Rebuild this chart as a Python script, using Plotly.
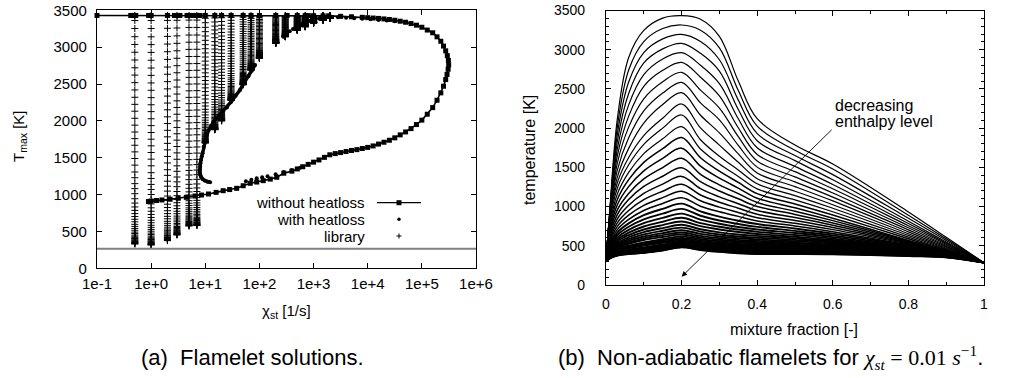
import numpy as np
import plotly.graph_objects as go

W, H = 1010, 378
SANS = "Liberation Sans, Arial, Helvetica, sans-serif"

# ------------------------------------------------------------------
# Panel (a): Flamelet solutions
# ------------------------------------------------------------------
# library columns (scalar dissipation rate) and lowest T_max reached in each column
LIB_CHI = [0.5, 1, 2, 3, 5, 7, 10, 15, 20, 30, 50, 70, 100, 200, 300, 500, 700, 1000, 1500, 2000]
LIB_TMIN = [330, 316, 375, 452, 574, 580, 1700, 1880, 2000, 2280, 2490, 2690, 2850, 3053, 3142,
            3233, 3278, 3330, 3370, 3390]
LIB_TMAX = 3430
# normalised position of the library enthalpy levels inside a column (1 = adiabatic)
LIB_LEVELS = [1.0, .978, .943, .907, .873, .839, .805, .771, .739, .706, .674, .642, .611, .581,
              .550, .520, .490, .461, .432, .403, .374, .345, .315, .290, .264, .242, .220, .198,
              .179, .162, .147, .133, .120, .108, .097, .086, .077, .068, .060, .052, .046, .039,
              .034, .029, .024, .021, .017, .014, .011, .0084, .0061, .0042, .0026, .0013, 0.0]

# with heat loss: extinction limit branch (C-shaped), near-adiabatic branch, middle-branch points
HL_C_LOGCHI = [1.089, 1.04, 0.99, 0.95, 0.92, 0.905, 0.90, 0.90, 0.905, 0.91, 0.92, 0.935, 0.95,
               0.97, 0.996, 1.03, 1.06, 1.10, 1.15, 1.20, 1.26, 1.33, 1.40, 1.48, 1.56, 1.64,
               1.72, 1.80, 1.86, 1.92]
HL_C_T = [1167, 1175, 1190, 1210, 1240, 1270, 1300, 1340, 1380, 1425, 1470, 1520, 1560, 1650,
          1741, 1810, 1870, 1930, 1985, 2030, 2080, 2130, 2180, 2260, 2340, 2419, 2520, 2610,
          2680, 2758]
HL_TOP_LOGCHI = [2.44, 2.50, 2.56, 2.62, 2.68, 2.74, 2.80, 2.86, 2.92, 3.0, 3.1, 3.2, 3.3, 3.45,
                 3.6, 3.75, 3.9, 4.05, 4.2, 4.35, 4.5]
HL_TOP_T = [3142, 3180, 3215, 3248, 3275, 3300, 3320, 3338, 3355, 3372, 3390, 3405, 3410, 3405,
            3398, 3392, 3385, 3378, 3370, 3362, 3352]
HL_MID_LOGCHI = [1.75, 1.85, 1.95, 2.05, 2.15, 2.3, 2.45, 2.6, 2.75]
HL_MID_T = [1180, 1200, 1220, 1235, 1250, 1275, 1305, 1335, 1365]

# without heat loss (adiabatic S-curve)
NOHL_LOGCHI = [-1.0, -0.377, -0.328, -0.284, -0.046, 0.0, 0.301, 0.431, 0.477, 0.531, 0.663,
               0.699, 0.740, 0.778, 0.820, 0.863, 0.903, 1.0, 1.176, 1.301, 1.477, 1.699, 1.845,
               2.0, 2.301, 2.511, 2.699, 2.845, 2.903, 3.0, 3.176, 3.279,
               3.5, 3.7, 3.9, 4.0, 4.1, 4.2, 4.3, 4.4, 4.5, 4.6, 4.7, 4.8, 4.9, 5.0, 5.1, 5.2,
               5.28, 5.35, 5.40, 5.44, 5.47, 5.49, 5.495, 5.485, 5.465, 5.44, 5.40, 5.35, 5.28,
               5.2, 5.1, 5.0, 4.9, 4.8, 4.7, 4.6, 4.5, 4.4, 4.3, 4.2, 4.1, 4.0, 3.9, 3.8, 3.7,
               3.6, 3.5, 3.4, 3.3, 3.2, 3.1, 3.0, 2.9, 2.8, 2.7, 2.6, 2.45, 2.32, 2.2, 2.07,
               1.95, 1.83, 1.7, 1.58, 1.45, 1.33, 1.2, 1.06, 0.93, 0.81, 0.65, 0.5, 0.35, 0.2,
               0.1, 0.0, -0.05]
NOHL_T = [3430, 3430, 3430, 3430, 3430, 3430, 3430, 3430, 3430, 3430, 3430, 3430, 3430, 3430,
          3430, 3430, 3430, 3430, 3430, 3430, 3430, 3430, 3430, 3430, 3430, 3430, 3430, 3428,
          3428, 3427, 3426, 3425,
          3418, 3412, 3405, 3400, 3395, 3390, 3383, 3375, 3365, 3352, 3338, 3320, 3298, 3270,
          3232, 3195, 3140, 3080, 3015, 2950, 2885, 2820, 2760, 2700, 2630, 2560, 2470, 2380,
          2280, 2180, 2090, 2010, 1950, 1895, 1850, 1810, 1770, 1737, 1710, 1685, 1660, 1640,
          1625, 1610, 1598, 1584, 1570, 1556, 1540, 1505, 1470, 1440, 1410, 1378, 1348, 1318,
          1290, 1235, 1210, 1189, 1170, 1153, 1120, 1085, 1068, 1053, 1030, 1008, 994, 981,
          963, 950, 937, 927, 920, 913, 905]

T_AMBIENT = 265
CHI_TICKS = [0.1, 1, 10, 100, 1e3, 1e4, 1e5, 1e6]
CHI_TICKTEXT = ["1e-1", "1e+0", "1e+1", "1e+2", "1e+3", "1e+4", "1e+5", "1e+6"]

# ------------------------------------------------------------------
# Panel (b): non-adiabatic flamelets, chi_st = 0.01 1/s
# ------------------------------------------------------------------
Z_NODES = [0, 0.01, 0.03, 0.06, 0.1, 0.15, 0.2, 0.25, 0.3, 0.35, 0.4, 0.5, 0.6, 0.8, 0.9, 1.0]
FLAMELET_T = [
    [300, 958, 2118, 2901, 3246, 3403, 3434, 3389, 3170, 2600, 2120, 1784, 1542, 931, 608, 285],
    [300, 933, 2019, 2742, 3104, 3270, 3315, 3249, 3024, 2480, 2025, 1717, 1479, 890, 588, 285],
    [300, 937, 1922, 2588, 2964, 3138, 3196, 3105, 2872, 2357, 1930, 1650, 1407, 850, 568, 285],
    [300, 912, 1830, 2441, 2831, 3011, 3081, 2954, 2727, 2238, 1840, 1586, 1341, 813, 548, 285],
    [300, 912, 1737, 2297, 2682, 2882, 2962, 2802, 2568, 2120, 1750, 1513, 1282, 784, 534, 285],
    [300, 884, 1646, 2153, 2534, 2737, 2839, 2649, 2411, 2005, 1665, 1445, 1227, 756, 520, 285],
    [300, 879, 1554, 2013, 2374, 2591, 2712, 2484, 2256, 1891, 1582, 1379, 1173, 729, 506, 285],
    [300, 871, 1465, 1876, 2219, 2447, 2584, 2323, 2106, 1780, 1503, 1315, 1121, 703, 493, 285],
    [300, 860, 1376, 1742, 2065, 2301, 2452, 2164, 1939, 1671, 1428, 1254, 1072, 678, 481, 285],
    [300, 842, 1304, 1625, 1906, 2127, 2308, 2003, 1784, 1565, 1356, 1195, 1024, 654, 469, 285],
    [300, 804, 1234, 1533, 1794, 2000, 2168, 1852, 1641, 1466, 1290, 1139, 978, 632, 458, 285],
    [300, 764, 1160, 1435, 1675, 1864, 2019, 1734, 1543, 1385, 1226, 1085, 934, 610, 447, 285],
    [300, 727, 1090, 1343, 1564, 1738, 1880, 1623, 1451, 1308, 1165, 1033, 892, 589, 436, 285],
    [300, 690, 1023, 1254, 1456, 1615, 1745, 1515, 1362, 1235, 1107, 984, 852, 569, 426, 285],
    [300, 655, 958, 1168, 1352, 1497, 1615, 1412, 1277, 1165, 1052, 941, 821, 560, 428, 285],
    [300, 623, 898, 1089, 1256, 1387, 1495, 1317, 1198, 1099, 1000, 900, 791, 551, 429, 285],
    [300, 593, 843, 1016, 1168, 1287, 1385, 1228, 1124, 1037, 950, 860, 762, 542, 428, 285],
    [300, 566, 793, 950, 1088, 1196, 1285, 1147, 1056, 979, 903, 822, 734, 532, 427, 285],
    [300, 542, 748, 891, 1016, 1114, 1195, 1074, 993, 925, 858, 786, 706, 522, 425, 285],
    [300, 519, 706, 836, 950, 1039, 1112, 1005, 934, 875, 816, 752, 680, 512, 423, 285],
    [300, 499, 669, 786, 890, 971, 1037, 938, 871, 819, 777, 720, 655, 502, 420, 285],
    [300, 481, 635, 742, 836, 910, 970, 883, 823, 778, 741, 690, 632, 492, 416, 285],
    [300, 465, 605, 703, 788, 855, 910, 833, 781, 740, 708, 663, 611, 483, 413, 285],
    [300, 450, 579, 668, 746, 807, 857, 789, 742, 707, 678, 638, 592, 474, 410, 285],
    [300, 438, 555, 637, 708, 764, 810, 750, 708, 676, 651, 615, 574, 466, 406, 285],
    [300, 426, 534, 609, 674, 726, 768, 711, 671, 643, 626, 594, 557, 459, 403, 285],
    [300, 416, 516, 584, 645, 692, 731, 680, 644, 618, 603, 575, 542, 451, 400, 285],
    [300, 407, 499, 563, 618, 662, 698, 652, 619, 596, 582, 557, 527, 444, 396, 285],
    [300, 400, 485, 544, 595, 636, 669, 627, 597, 576, 563, 541, 514, 438, 393, 285],
    [300, 393, 472, 526, 574, 612, 643, 604, 577, 558, 546, 527, 503, 432, 390, 285],
    [300, 383, 454, 502, 543, 585, 620, 584, 559, 541, 530, 513, 492, 427, 388, 285],
    [300, 378, 444, 489, 528, 567, 600, 566, 542, 525, 515, 500, 481, 421, 385, 285],
    [300, 373, 435, 478, 514, 551, 582, 550, 527, 511, 501, 488, 471, 416, 382, 285],
    [300, 369, 428, 468, 502, 537, 566, 535, 513, 497, 488, 477, 462, 411, 379, 285],
    [300, 363, 416, 451, 479, 517, 552, 522, 500, 485, 476, 467, 453, 406, 376, 285],
    [300, 360, 410, 444, 470, 506, 540, 510, 489, 474, 465, 457, 445, 401, 373, 285],
    [300, 357, 405, 437, 463, 497, 529, 499, 479, 464, 455, 448, 437, 397, 371, 285],
    [300, 355, 401, 431, 455, 488, 519, 489, 469, 454, 445, 439, 430, 393, 368, 285],
    [300, 350, 392, 420, 439, 472, 510, 480, 460, 445, 436, 431, 423, 389, 366, 285],
    [300, 348, 389, 415, 433, 466, 502, 472, 451, 436, 427, 423, 416, 385, 363, 285],
    [300, 347, 386, 411, 429, 460, 495, 464, 443, 427, 418, 415, 409, 380, 360, 285],
    [300, 342, 379, 400, 415, 447, 489, 457, 435, 419, 410, 408, 403, 376, 357, 285],
    [300, 340, 377, 398, 412, 444, 484, 451, 428, 412, 402, 401, 396, 372, 354, 285],
    [300, 340, 376, 395, 410, 440, 480, 446, 422, 405, 395, 394, 391, 368, 352, 285],
]
ARROW_TAIL = (0.601, 1998)
ARROW_HEAD = (0.2, 106)
LABEL_LINE1_AT = (0.6, 2295)
LABEL_LINE2_AT = (0.6, 2085)

# ------------------------------------------------------------------
fig = go.Figure()

# library "+" columns
lib_x, lib_y = [], []
for chi, tmin in zip(LIB_CHI, LIB_TMIN):
    for lev in LIB_LEVELS:
        lib_x.append(chi)
        lib_y.append(tmin + lev * (LIB_TMAX - tmin))
fig.add_trace(go.Scatter(
    x=lib_x, y=lib_y, mode="markers", xaxis="x", yaxis="y",
    marker=dict(symbol="cross-thin", size=5, color="black", line=dict(width=1, color="black")),
    showlegend=False, hoverinfo="skip"))

# with heat loss
fig.add_trace(go.Scatter(
    x=10 ** np.array(HL_C_LOGCHI), y=HL_C_T, mode="lines+markers", xaxis="x", yaxis="y",
    line=dict(color="black", width=3.5), marker=dict(symbol="circle", size=4, color="black"),
    showlegend=False, hoverinfo="skip"))
fig.add_trace(go.Scatter(
    x=10 ** np.array(HL_TOP_LOGCHI + HL_MID_LOGCHI), y=HL_TOP_T + HL_MID_T, mode="markers",
    xaxis="x", yaxis="y", marker=dict(symbol="circle", size=4, color="black"),
    showlegend=False, hoverinfo="skip"))

# without heat loss
fig.add_trace(go.Scatter(
    x=10 ** np.array(NOHL_LOGCHI), y=NOHL_T, mode="lines+markers", xaxis="x", yaxis="y",
    line=dict(color="black", width=1.6), marker=dict(symbol="square", size=5, color="black"),
    cliponaxis=False, showlegend=False, hoverinfo="skip"))

# ambient temperature reference line
fig.add_trace(go.Scatter(
    x=[CHI_TICKS[0], CHI_TICKS[-1]], y=[T_AMBIENT, T_AMBIENT], mode="lines", xaxis="x", yaxis="y",
    line=dict(color="#808080", width=2), showlegend=False, hoverinfo="skip"))

# panel (b) flamelets
for i, row in enumerate(FLAMELET_T):
    lw = 1.2 if i < 12 else (1.5 if i < 20 else 1.9)
    fig.add_trace(go.Scatter(
        x=Z_NODES, y=row, mode="lines", xaxis="x2", yaxis="y2",
        line=dict(color="black", width=lw, shape="spline", smoothing=1.0),
        showlegend=False, hoverinfo="skip"))


def px(x):
    return x / W


def py(y):
    return (H - y) / H


common = dict(showgrid=False, zeroline=False, showline=True, linecolor="black", linewidth=1.2,
              mirror="allticks", ticks="inside", tickcolor="black", tickwidth=1, ticklen=5,
              automargin=False, ticklabeloverflow="allow")

fig.update_layout(
    template="none",
    width=W, height=H, margin=dict(l=0, r=0, t=0, b=0, pad=0), autosize=False,
    paper_bgcolor="white", plot_bgcolor="white",
    font=dict(family=SANS, color="black", size=14),
    xaxis=dict(type="log", range=[-1, 6], domain=[px(97), px(476)], anchor="y",
               tickmode="array", tickvals=CHI_TICKS, ticktext=CHI_TICKTEXT,
               tickfont=dict(size=15), ticklabelstandoff=2, **common),
    yaxis=dict(range=[0, 3500], domain=[py(268.3), py(10.3)], anchor="x",
               tickmode="linear", tick0=0, dtick=500,
               tickfont=dict(size=15), ticklabelstandoff=6, **common),
    xaxis2=dict(range=[0, 1], domain=[px(606), px(984)], anchor="y2",
                tickmode="linear", tick0=0, dtick=0.2,
                minor=dict(ticks="inside", ticklen=3, tick0=0, dtick=0.1, tickcolor="black"),
                tickfont=dict(size=14), ticklabelstandoff=6, **common),
    yaxis2=dict(range=[0, 3500], domain=[py(285), py(10.5)], anchor="x2",
                tickmode="linear", tick0=0, dtick=500,
                minor=dict(ticks="inside", ticklen=3, tick0=0, dtick=100, tickcolor="black"),
                tickfont=dict(size=14), ticklabelstandoff=17, **common),
)

ann = []


def text_at(text, x, y, size, **kw):
    d = dict(text=text, x=px(x), y=py(y), xref="paper", yref="paper", showarrow=False,
             xanchor="center", yanchor="middle", font=dict(size=size))
    d.update(kw)
    ann.append(d)


# axis titles
text_at("T<sub>max</sub> [K]", 19, 136, 15, textangle=-90)
text_at("χ<sub>st</sub> [1/s]", 286, 311, 15)
text_at("temperature [K]", 529, 150, 16, textangle=-90)
text_at("mixture fraction [-]", 794, 329, 16)
# captions
text_at("(a)  Flamelet solutions.", 252, 357, 22)
text_at("(b)  Non-adiabatic flamelets for "
        "<span style='font-family:Liberation Serif'><i>χ<sub>st</sub></i> = 0.01 "
        "<i>s</i><sup>−1</sup></span>.", 770, 357, 22)
# legend of panel (a)
for label, yy in [("without heatloss", 202.7), ("with heatloss", 219.3), ("library", 236)]:
    text_at(label, 367, yy, 15, xanchor="right")
# panel (b) annotation + arrow
for label, pos in [("decreasing", LABEL_LINE1_AT), ("enthalpy level", LABEL_LINE2_AT)]:
    ann.append(dict(text=label, x=pos[0], y=pos[1], xref="x2", yref="y2", xanchor="left",
                    yanchor="middle", align="left", showarrow=False, font=dict(size=16)))
ann.append(dict(text="", x=ARROW_HEAD[0], y=ARROW_HEAD[1], ax=ARROW_TAIL[0], ay=ARROW_TAIL[1],
                xref="x2", yref="y2", axref="x2", ayref="y2", showarrow=True,
                arrowhead=2, arrowsize=1.2, arrowwidth=0.9, arrowcolor="black", standoff=0))
fig.update_layout(annotations=ann)

# legend samples (drawn in paper space)
shapes = []
shapes.append(dict(type="line", xref="paper", yref="paper", x0=px(377), x1=px(421),
                   y0=py(202.7), y1=py(202.7), line=dict(color="black", width=1.2)))
shapes.append(dict(type="rect", xref="paper", yref="paper", x0=px(396.5), x1=px(401.5),
                   y0=py(205.2), y1=py(200.2), fillcolor="black", line=dict(width=0)))
shapes.append(dict(type="circle", xref="paper", yref="paper", x0=px(397.3), x1=px(400.7),
                   y0=py(221), y1=py(217.6), fillcolor="black", line=dict(width=0)))
shapes.append(dict(type="line", xref="paper", yref="paper", x0=px(396.5), x1=px(401.5),
                   y0=py(236), y1=py(236), line=dict(color="black", width=1)))
shapes.append(dict(type="line", xref="paper", yref="paper", x0=px(399), x1=px(399),
                   y0=py(238.5), y1=py(233.5), line=dict(color="black", width=1)))
fig.update_layout(shapes=shapes)

# remove the browser's default 8 px page margin so the figure sits at the window origin
fig.write_html("out.html", config={"displayModeBar": False},
               post_script="document.body.style.margin='0px';")
